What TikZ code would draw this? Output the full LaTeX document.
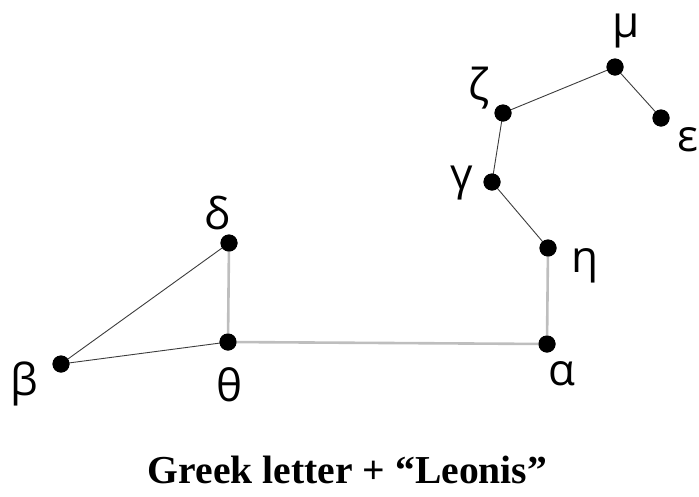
\documentclass[tikz,border=0pt]{standalone}
\usepackage{fontspec}
\setmainfont{Liberation Serif}
\newfontfamily\greekfont{Open Sans}
\definecolor{leodark}{RGB}{60,60,60}
\definecolor{leogray}{RGB}{190,190,190}
\usetikzlibrary{positioning}

\begin{document}
\begin{tikzpicture}[x=1pt, y=-1pt,
    star/.style={circle, fill=black, inner sep=0pt, minimum size=17pt},
    starname/.style={inner sep=0pt, font=\greekfont\fontsize{44}{48}\selectfont},
    thinlink/.style={draw=leodark, line width=0.9pt},
    thicklink/.style={draw=leogray, line width=2.6pt}]

\useasboundingbox (0,0) rectangle (699,496);

% === Stars ===
\node[star] (beta)    at (61,364)  {};
\node[star] (theta)   at (228,342) {};
\node[star] (delta)   at (229,243) {};
\node[star] (alpha)   at (547,344) {};
\node[star] (eta)     at (548,248) {};
\node[star] (gamma)   at (492,182) {};
\node[star] (zeta)    at (503,113) {};
\node[star] (mu)      at (615,67)  {};
\node[star] (epsilon) at (661,118) {};

% === Lines ===
\draw[thicklink] (delta.center) -- (theta.center) -- (alpha.center) -- (eta.center);
\draw[thinlink] (theta.center) -- (beta.center) -- (delta.center);
\draw[thinlink] (eta.center) -- (gamma.center) -- (zeta.center) -- (mu.center) -- (epsilon.center);

% redraw dots on top
\foreach \s in {beta,theta,delta,alpha,eta,gamma,zeta,mu,epsilon}
  \fill (\s) circle (8.5pt);

% === Names ===
\node[starname] (lbeta)    at (24,384)  {β};
\node[starname] (ltheta)   at (230,385) {θ};
\node[starname] (ldelta)   at (217,213) {δ};
\node[starname] (lalpha)   at (562,374) {α};
\node[starname] (leta)     at (585,266) {η};
\node[starname] (lgamma)   at (462,183) {γ};
\node[starname] (lzeta)    at (479,88)  {ζ};
\node[starname] (lmu)      at (626,31)  {μ};
\node[starname] (lepsilon) at (688,140) {ε};

% === Caption ===
\node[font=\fontsize{39.6}{44}\selectfont\bfseries, anchor=base, inner sep=0pt]
     (caption) at (347.5,483) {Greek letter + “Leonis”};

\end{tikzpicture}
\end{document}
